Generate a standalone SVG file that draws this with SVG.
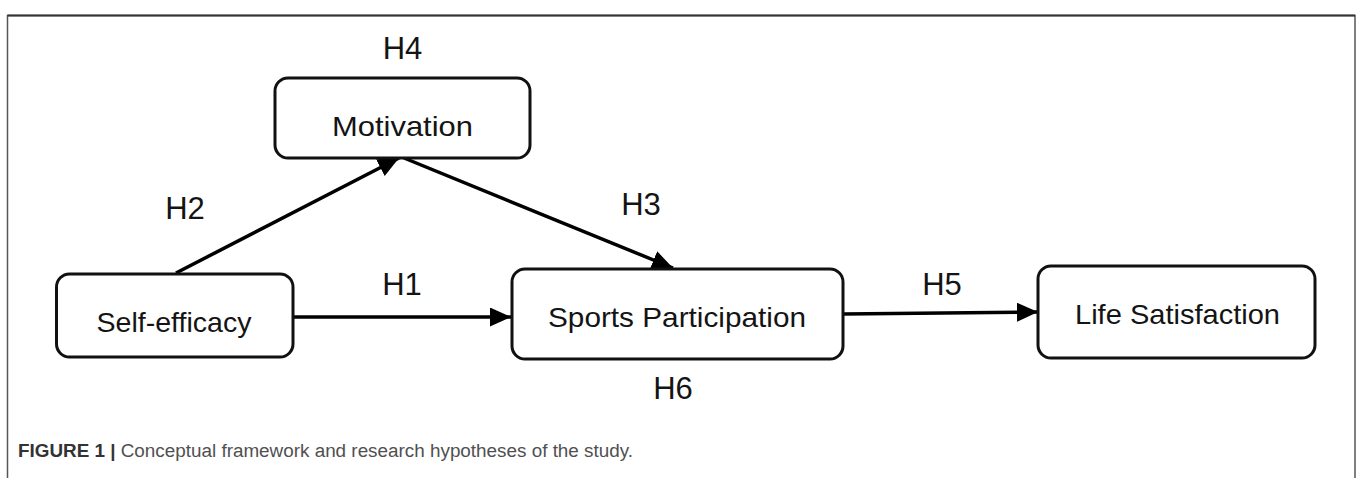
<svg xmlns="http://www.w3.org/2000/svg" width="1357" height="478" viewBox="0 0 1357 478">
  <style>
    .box { fill: #ffffff; stroke: #111111; stroke-width: 3; }
    .lbl { font-family: "Liberation Sans", Arial, sans-serif; font-size: 28px; fill: #141414; text-anchor: middle; }
    .hyp { font-family: "Liberation Sans", Arial, sans-serif; font-size: 31px; fill: #141414; text-anchor: middle; }
    .edge { stroke: #000000; stroke-width: 3.5; fill: none; marker-end: url(#arrow); }
    .frame { stroke: #555555; stroke-width: 1.5; fill: none; }
    .cap { font-family: "Liberation Sans Narrow", "Liberation Sans", Arial, sans-serif; font-size: 18px; fill: #505050; }
  </style>
  <defs>
    <marker id="arrow" markerUnits="userSpaceOnUse" markerWidth="23" markerHeight="20" refX="21" refY="9.5" orient="auto">
      <path d="M0,0 L21,9.5 L0,19 Z" fill="#000000"/>
    </marker>
  </defs>
  <rect x="0" y="0" width="1357" height="478" fill="#ffffff"/>
  <g id="frame">
    <path class="frame" d="M7.5,478 L7.5,15.5 L1355,15.5 L1355,478"/>
    <path d="M7.5,15.5 L1355,15.5" stroke="#333333" stroke-width="2" fill="none"/>
  </g>
  <g id="connectors">
    <line class="edge" x1="176" y1="273" x2="399" y2="158"/>
    <line class="edge" x1="404" y1="158" x2="673" y2="268"/>
    <line class="edge" x1="293" y1="317" x2="511" y2="317"/>
    <line class="edge" x1="843" y1="314" x2="1038" y2="312"/>
    <text class="hyp" x="185" y="219">H2</text>
    <text class="hyp" x="641" y="215">H3</text>
    <text class="hyp" x="402" y="295">H1</text>
    <text class="hyp" x="942" y="295">H5</text>
  </g>
  <g id="motivation">
    <rect class="box" x="275" y="78" width="255" height="80" rx="13"/>
    <text class="lbl" x="402.5" y="136" textLength="141" lengthAdjust="spacingAndGlyphs">Motivation</text>
    <text class="hyp" x="402.5" y="59">H4</text>
  </g>
  <g id="self-efficacy">
    <rect class="box" x="56.5" y="274" width="236.5" height="83" rx="13"/>
    <text class="lbl" x="174" y="331.5" textLength="155" lengthAdjust="spacingAndGlyphs">Self-efficacy</text>
  </g>
  <g id="sports-participation">
    <rect class="box" x="512" y="269" width="331" height="90" rx="13"/>
    <text class="lbl" x="677" y="326.5" textLength="258" lengthAdjust="spacingAndGlyphs">Sports Participation</text>
    <text class="hyp" x="673" y="399">H6</text>
  </g>
  <g id="life-satisfaction">
    <rect class="box" x="1038" y="266" width="277" height="92" rx="13"/>
    <text class="lbl" x="1177.5" y="324" textLength="205" lengthAdjust="spacingAndGlyphs">Life Satisfaction</text>
  </g>
  <g id="caption">
    <text class="cap" x="18" y="457" textLength="615" lengthAdjust="spacingAndGlyphs"><tspan font-weight="bold" fill="#333333">FIGURE 1 |</tspan> Conceptual framework and research hypotheses of the study.</text>
  </g>
</svg>
